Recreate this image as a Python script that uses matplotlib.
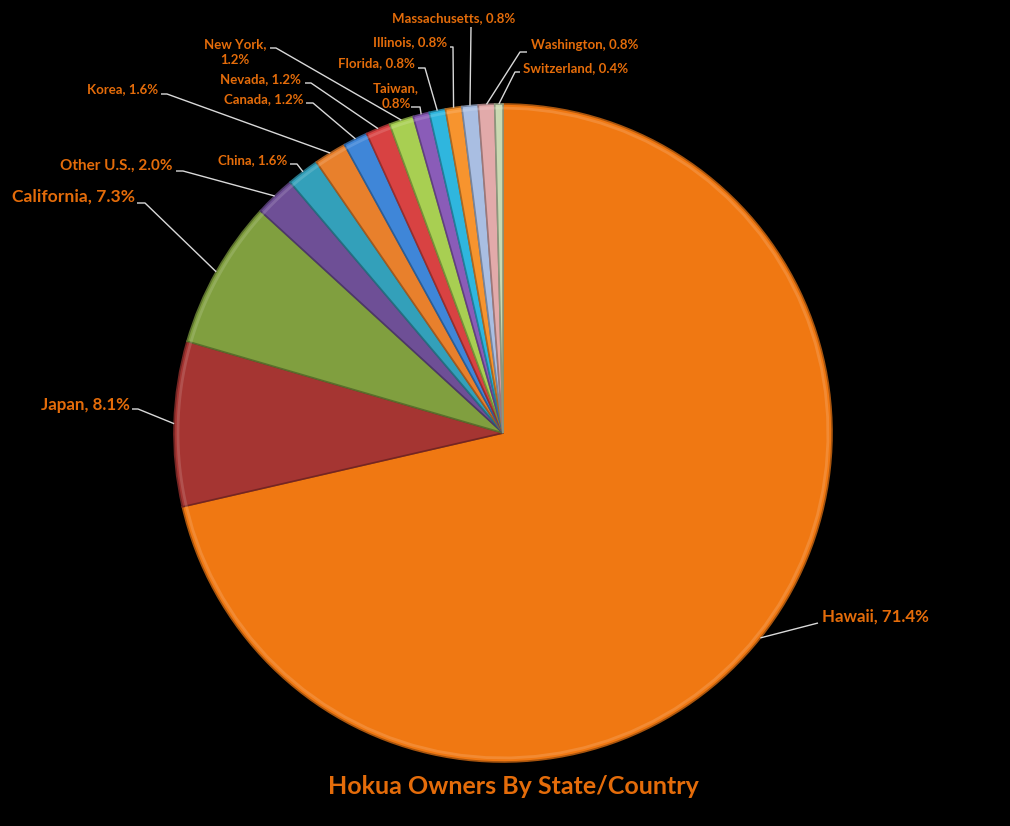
import numpy as np
import matplotlib
matplotlib.use("Agg")
import matplotlib.pyplot as plt
from matplotlib.colors import to_rgb

# ---------------- data ----------------
categories = ["Hawaii", "Japan", "California", "Other U.S.", "China", "Korea",
              "Canada", "Nevada", "New York", "Taiwan", "Florida", "Illinois",
              "Massachusetts", "Washington", "Switzerland"]
percents = [71.4, 8.1, 7.3, 2.0, 1.6, 1.6, 1.2, 1.2, 1.2, 0.8, 0.8, 0.8, 0.8, 0.8, 0.4]
colors = ["#F07812", "#A53532", "#809F3F", "#6E4F96", "#33A0BA", "#E8802C",
          "#3F86D8", "#D84242", "#A8CF52", "#8A5CB8", "#2FB6DE", "#F7942E",
          "#A9BEE2", "#E2AAAA", "#CAD9B2"]
label_texts = ["Hawaii, 71.4%", "Japan, 8.1%", "California, 7.3%", "Other U.S., 2.0%",
               "China, 1.6%", "Korea, 1.6%", "Canada, 1.2%", "Nevada, 1.2%",
               "New York,\n1.2%", "Taiwan,\n0.8%", "Florida, 0.8%", "Illinois, 0.8%",
               "Massachusetts, 0.8%", "Washington, 0.8%", "Switzerland, 0.4%"]
title = "Hokua Owners By State/Country"

# ---------------- layout (pixel coords, y downward) ----------------
W, H = 1010, 826
CX, CY, R = 503, 433, 329
# (text_x, text_y, ha, elbow_near_x, elbow_far_x, elbow_y, fontsize)
label_layout = [
    (822, 617, "left", 818, 818, 623, 12.2),
    (130, 405, "right", 138, 132, 409, 12.2),
    (135, 197, "right", 145, 137, 203, 12.6),
    (173, 166, "right", 183, 176, 171, 11),
    (287, 160, "right", 297, 290, 164, 9.5),
    (158, 89, "right", 167, 161, 94, 9.5),
    (304, 99, "right", 313, 306, 103, 9.5),
    (301, 79, "right", 311, 305, 83, 9.5),
    (266, 52, "right", 276, 270, 48, 9.5),
    (419, 96, "right", 420, 411, 107, 9.5),
    (415, 63, "right", 425, 418, 68, 9.5),
    (447, 42, "right", 453, 450, 47, 9.5),
    (454, 18, "center", 471, 471, 27, 9.5),
    (531, 45, "left", 520, 527, 52, 9.5),
    (523, 68, "left", 515, 520, 72, 9.5),
]

TEXT_COLOR = "#E46C0A"
LINE_COLOR = "#D9D9D9"
FONT = ["Lato", "DejaVu Sans"]

fig = plt.figure(figsize=(W / 100, H / 100), dpi=100)
fig.patch.set_facecolor("black")
ax = fig.add_axes([0, 0, 1, 1])
ax.set_facecolor("black")


def py(y):
    return H - y


def darker(c, f=0.75):
    r, g, b = to_rgb(c)
    return (r * f, g * f, b * f)


wedges, _ = ax.pie(percents, colors=colors, startangle=90, counterclock=False,
                   center=(CX, py(CY)), radius=R, frame=True,
                   wedgeprops=dict(linewidth=1.2))
for w, c in zip(wedges, colors):
    w.set_edgecolor(darker(c, 0.7))

# subtle bevel highlight on rim
for w, c in zip(wedges, colors):
    r, g, b = to_rgb(c)
    lighter = (min(1, r * 0.6 + 0.4), min(1, g * 0.6 + 0.4), min(1, b * 0.6 + 0.4))
    th = np.radians(np.linspace(w.theta1, w.theta2, 60))
    ax.plot(CX + (R - 4) * np.cos(th), py(CY) + (R - 4) * np.sin(th),
            color=lighter, lw=2.0, alpha=0.35, solid_capstyle="butt")

ax.set_xlim(0, W)
ax.set_ylim(0, H)
ax.set_aspect("equal")
ax.axis("off")

for w, txt, lay in zip(wedges, label_texts, label_layout):
    tx, ty, ha, enx, efx, ey, fs = lay
    mid = np.radians((w.theta1 + w.theta2) / 2)
    axp = w.center[0] + w.r * np.cos(mid)
    ayp = w.center[1] + w.r * np.sin(mid)
    ax.plot([axp, enx, efx], [ayp, py(ey), py(ey)], color=LINE_COLOR, lw=1.0,
            solid_capstyle="butt")
    ax.text(tx, py(ty), txt, ha=ha, va="center", color=TEXT_COLOR, fontsize=fs,
            fontweight="bold", family=FONT, multialignment="center", linespacing=1.45)

ax.text(513, py(787), title, ha="center", va="center", color=TEXT_COLOR,
        fontsize=18, fontweight="bold", family=FONT)

fig.savefig("out.png", dpi=100, facecolor="black")
